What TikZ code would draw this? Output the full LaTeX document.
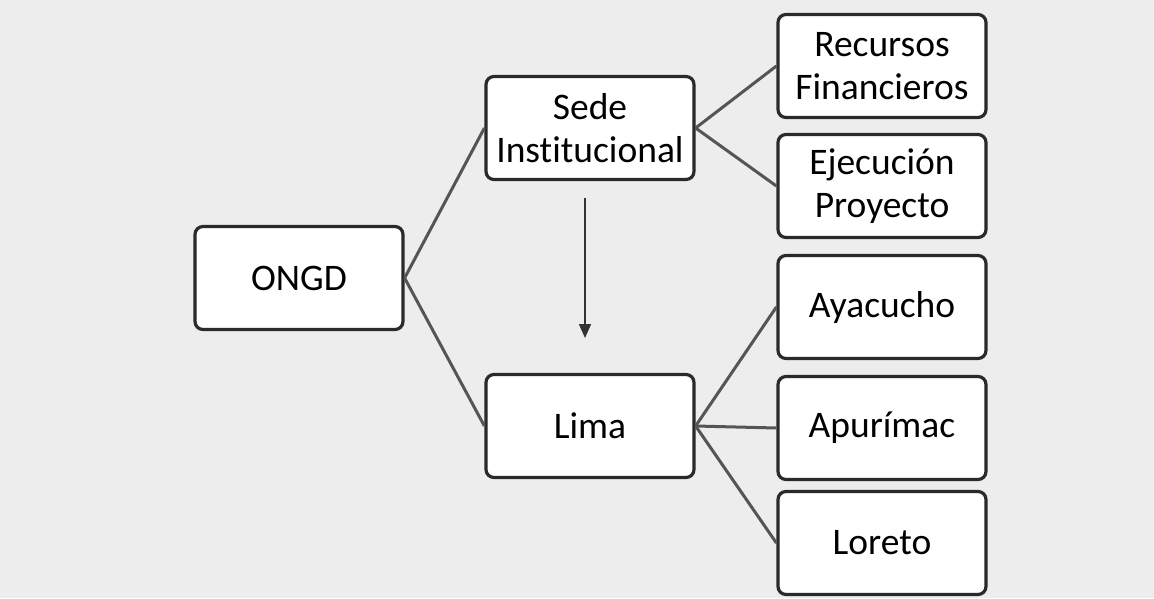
\documentclass[tikz,border=0pt]{standalone}
\usepackage{fontspec}
\setmainfont[Ligatures=NoCommon]{Carlito}
\usetikzlibrary{arrows.meta}
\definecolor{bgc}{HTML}{EDEDED}
\definecolor{edgec}{HTML}{2A2A2A}
\definecolor{linkc}{HTML}{555555}
\tikzset{
  box/.style={draw=edgec, line width=3.2pt, rounded corners=8pt, fill=white,
    minimum width=208pt, minimum height=103pt, align=center, inner sep=0pt,
    font=\fontsize{37.5}{43}\selectfont},
  link/.style={draw=linkc, line width=3pt},
  flow/.style={draw=black!80, line width=1.6pt, -{Triangle[length=14pt,width=12pt]}}
}
\begin{document}
\begin{tikzpicture}[x=1pt,y=-1pt]
\fill[bgc] (0,0) rectangle (1154,598);
\useasboundingbox (0,0) rectangle (1154,598);
\node[box] (ongd) at (299,278) {ONGD};
\node[box] (sede) at (590,128) {Sede\\Institucional};
\node[box] (lima) at (590,426) {Lima};
\node[box] (rec) at (882,66) {Recursos\\Financieros};
\node[box] (eje) at (882,186) {Ejecución\\Proyecto};
\node[box] (aya) at (882,307) {Ayacucho};
\node[box] (apu) at (882,428) {Apurímac};
\node[box] (lor) at (882,543) {Loreto};
\coordinate (a1) at (585,198);
\coordinate (a2) at (585,338);
\draw[link] (ongd.east) -- (sede.west);
\draw[link] (ongd.east) -- (lima.west);
\draw[link] (sede.east) -- (rec.west);
\draw[link] (sede.east) -- (eje.west);
\draw[link] (lima.east) -- (aya.west);
\draw[link] (lima.east) -- (apu.west);
\draw[link] (lima.east) -- (lor.west);
\draw[flow] (a1) -- (a2);
\end{tikzpicture}
\end{document}
